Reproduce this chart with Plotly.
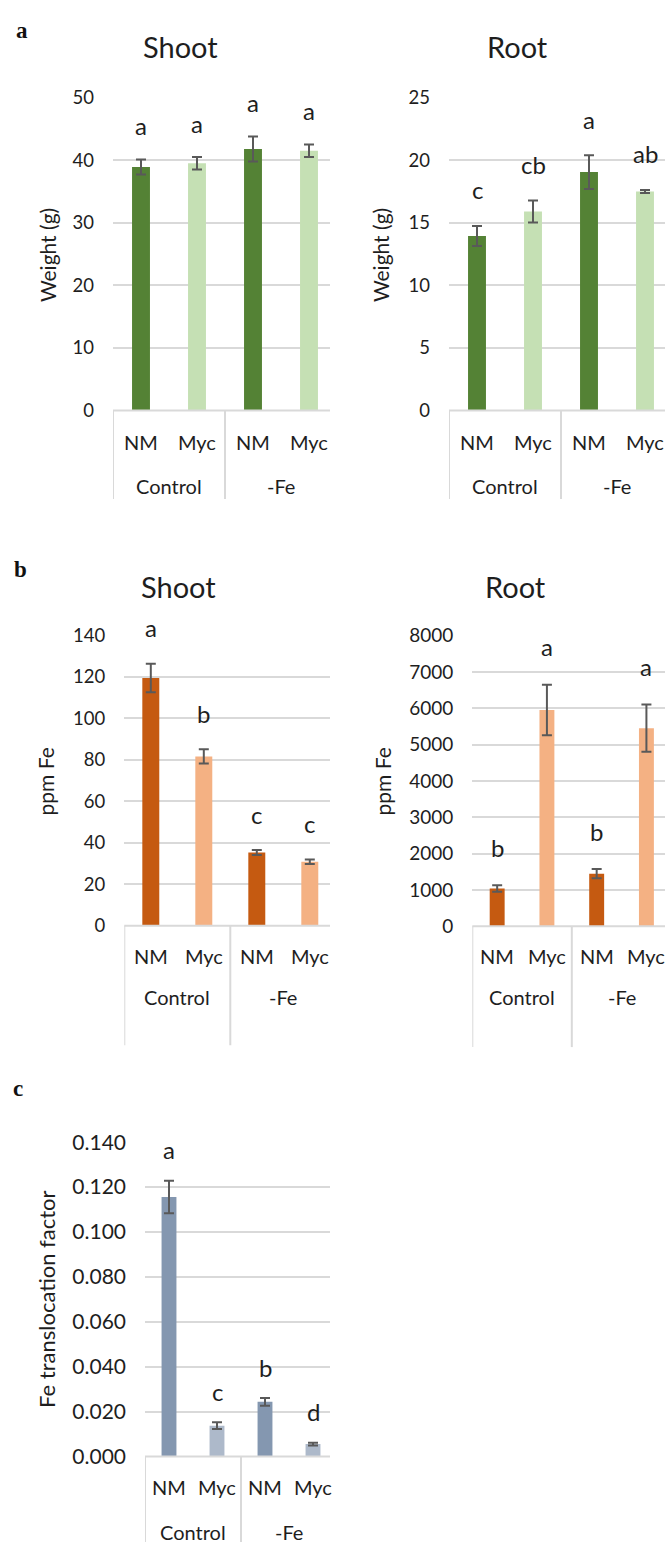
import plotly.graph_objects as go

W, H = 665, 1553

# ---------------- data ----------------
groups = ["Control", "Control", "-Fe", "-Fe"]
treatments = ["NM", "Myc", "NM", "Myc"]

shoot_weight = [38.9, 39.5, 41.8, 41.5]
shoot_weight_err = [1.2, 1.0, 2.0, 1.0]
shoot_weight_letters = ["a", "a", "a", "a"]

root_weight = [13.95, 15.9, 19.05, 17.5]
root_weight_err = [0.8, 0.88, 1.35, 0.12]
root_weight_letters = ["c", "cb", "a", "ab"]

shoot_fe = [119.5, 81.7, 35.3, 30.9]
shoot_fe_err = [6.9, 3.4, 1.2, 1.1]
shoot_fe_letters = ["a", "b", "c", "c"]

root_fe = [1040, 5950, 1450, 5450]
root_fe_err = [90, 695, 125, 650]
root_fe_letters = ["b", "a", "b", "a"]

transloc = [0.1156, 0.0137, 0.0243, 0.0055]
transloc_err = [0.0072, 0.0015, 0.0017, 0.0006]
transloc_letters = ["a", "c", "b", "d"]

green_colors = ["#548235", "#C5E0B4", "#548235", "#C5E0B4"]
orange_colors = ["#C55A11", "#F4B183", "#C55A11", "#F4B183"]
blue_colors = ["#8497B0", "#ADB9CA", "#8497B0", "#ADB9CA"]

FONT = "Lato"
TXT = "#1e1e1e"
GRID = "#D9D9D9"

xkeys = [f"{g} {t}" for g, t in zip(groups, treatments)]

fig = go.Figure()


def px_x(p):
    return p / W


def px_y(p):
    return 1 - p / H


# panel geometry in pixels: left, full right, crop right, top, bottom
panels = [
    dict(name="1", left=113, right=337, crop=330, top=85, bottom=403,
         vals=shoot_weight, err=shoot_weight_err, letters=shoot_weight_letters,
         colors=green_colors, yr=[0, 50], dtick=10, fmt="", div_bottom=493,
         lab1=435, lab2=480, shift=31, tickfs=18.5, width=0.32),
    dict(name="2", left=449, right=673, crop=665, top=85, bottom=403,
         vals=root_weight, err=root_weight_err, letters=root_weight_letters,
         colors=green_colors, yr=[0, 25], dtick=5, fmt="", div_bottom=493,
         lab1=435, lab2=480, shift=33, tickfs=18.5, width=0.32),
    dict(name="3", left=124.3, right=336.3, crop=330, top=631.7, bottom=926.7,
         vals=shoot_fe, err=shoot_fe_err, letters=shoot_fe_letters,
         colors=orange_colors, yr=[0, 140], dtick=20, fmt="", div_bottom=1048,
         lab1=957, lab2=999, shift=33, tickfs=18.5, width=0.32),
    dict(name="4", left=472.3, right=671.3, crop=665, top=631.7, bottom=927.3,
         vals=root_fe, err=root_fe_err, letters=root_fe_letters,
         colors=orange_colors, yr=[0, 8000], dtick=1000, fmt="", div_bottom=1050,
         lab1=957, lab2=999, shift=35, tickfs=19, width=0.30),
    dict(name="5", left=145, right=337, crop=330, top=1146.7, bottom=1466,
         vals=transloc, err=transloc_err, letters=transloc_letters,
         colors=blue_colors, yr=[0, 0.14], dtick=0.02, fmt=".3f", div_bottom=1553,
         lab1=1497, lab2=1543, shift=28, tickfs=21, width=0.31),
]

layout = dict(
    width=W, height=H, margin=dict(l=0, r=0, t=0, b=0),
    paper_bgcolor="white", plot_bgcolor="white", showlegend=False,
    font=dict(family=FONT, color=TXT),
)
annotations = []
shapes = []

for p in panels:
    n = p["name"]
    xa = "x" if n == "1" else "x" + n
    ya = "y" if n == "1" else "y" + n
    xl = "xaxis" if n == "1" else "xaxis" + n
    yl = "yaxis" if n == "1" else "yaxis" + n
    fig.add_trace(go.Bar(
        x=xkeys, y=p["vals"], xaxis=xa, yaxis=ya,
        marker=dict(color=p["colors"], line=dict(width=0)),
        width=p["width"],
        error_y=dict(type="data", array=p["err"], visible=True,
                     color="#595959", thickness=2, width=5),
        hoverinfo="skip",
    ))
    end = -0.5 + 4 * (p["crop"] - p["left"]) / (p["right"] - p["left"])
    layout[xl] = dict(
        domain=[px_x(p["left"]), px_x(p["crop"])], anchor=ya,
        type="category", categoryorder="array", categoryarray=xkeys,
        range=[-0.5, end], showticklabels=False, showgrid=False,
        zeroline=False, showline=False, ticks="",
    )
    layout[yl] = dict(
        domain=[px_y(p["bottom"]), px_y(p["top"])], anchor=xa,
        range=p["yr"], dtick=p["dtick"], tick0=0, tickformat=p["fmt"],
        showgrid=True, gridcolor=GRID, gridwidth=1.6,
        zeroline=False, showline=False, ticks="",
        tickfont=dict(family=FONT, size=p["tickfs"], color=TXT),
        ticklabelstandoff=18,
    )
    # axis base line
    shapes.append(dict(type="line", xref=xa + " domain", yref="paper",
                       x0=0, x1=1, y0=px_y(p["bottom"]), y1=px_y(p["bottom"]),
                       line=dict(color=GRID, width=2)))
    # dividers
    for xd in [-0.5, 1.5]:
        shapes.append(dict(type="line", xref=xa, yref="paper",
                           x0=xd, x1=xd, y0=px_y(p["bottom"]), y1=px_y(p["div_bottom"]),
                           line=dict(color=GRID, width=2)))
    # treatment labels
    for k, t in zip(xkeys, treatments):
        annotations.append(dict(x=k, xref=xa, y=px_y(p["lab1"]), yref="paper",
                                text=t, showarrow=False, yanchor="middle",
                                font=dict(family=FONT, size=20, color=TXT)))
    # group labels
    for pos, g in [(0.5, groups[0]), (2.5, groups[2])]:
        annotations.append(dict(x=pos, xref=xa, y=px_y(p["lab2"]), yref="paper",
                                text=g, showarrow=False, yanchor="middle",
                                font=dict(family=FONT, size=20, color=TXT)))
    # significance letters
    for k, v, e, L in zip(xkeys, p["vals"], p["err"], p["letters"]):
        annotations.append(dict(x=k, xref=xa, y=v + e, yref=ya, text=L,
                                showarrow=False, yanchor="middle", yshift=p["shift"] + 3,
                                font=dict(family=FONT, size=24, color=TXT)))

# titles
for txt, cx, cy in [("Shoot", 180, 33), ("Root", 517, 33),
                    ("Shoot", 178, 582), ("Root", 515, 582)]:
    annotations.append(dict(x=px_x(cx), y=px_y(cy), xref="paper", yref="paper",
                            text=txt, showarrow=False, xanchor="center", yanchor="middle",
                            font=dict(family=FONT, size=29, color=TXT)))

# y-axis titles
for txt, cx, cy, fs in [("Weight (g)", 47, 245, 21), ("Weight (g)", 380, 245, 21),
                        ("ppm Fe", 45, 780, 21), ("ppm Fe", 382, 780, 21),
                        ("Fe translocation factor", 47, 1307, 22)]:
    annotations.append(dict(x=px_x(cx), y=px_y(cy), xref="paper", yref="paper",
                            text=txt, showarrow=False, textangle=-90,
                            xanchor="center", yanchor="middle",
                            font=dict(family=FONT, size=fs, color=TXT)))

# panel labels
for txt, cx, cy in [("a", 22, 17), ("b", 20, 565), ("c", 18, 1092)]:
    annotations.append(dict(x=px_x(cx), y=px_y(cy), xref="paper", yref="paper",
                            text="<b>" + txt + "</b>", showarrow=False,
                            xanchor="center", yanchor="middle",
                            font=dict(family="Liberation Serif", size=23, color="#111111")))

layout["annotations"] = annotations
layout["shapes"] = shapes
fig.update_layout(**layout)
fig.write_html("out.html", config={"displayModeBar": False})

# remove default page margins so the figure sits at the window's top-left corner
with open("out.html", "r", encoding="utf-8") as f:
    html = f.read()
html = html.replace("<head>", "<head><style>html,body{margin:0;padding:0;overflow:hidden;}</style>", 1)
with open("out.html", "w", encoding="utf-8") as f:
    f.write(html)
